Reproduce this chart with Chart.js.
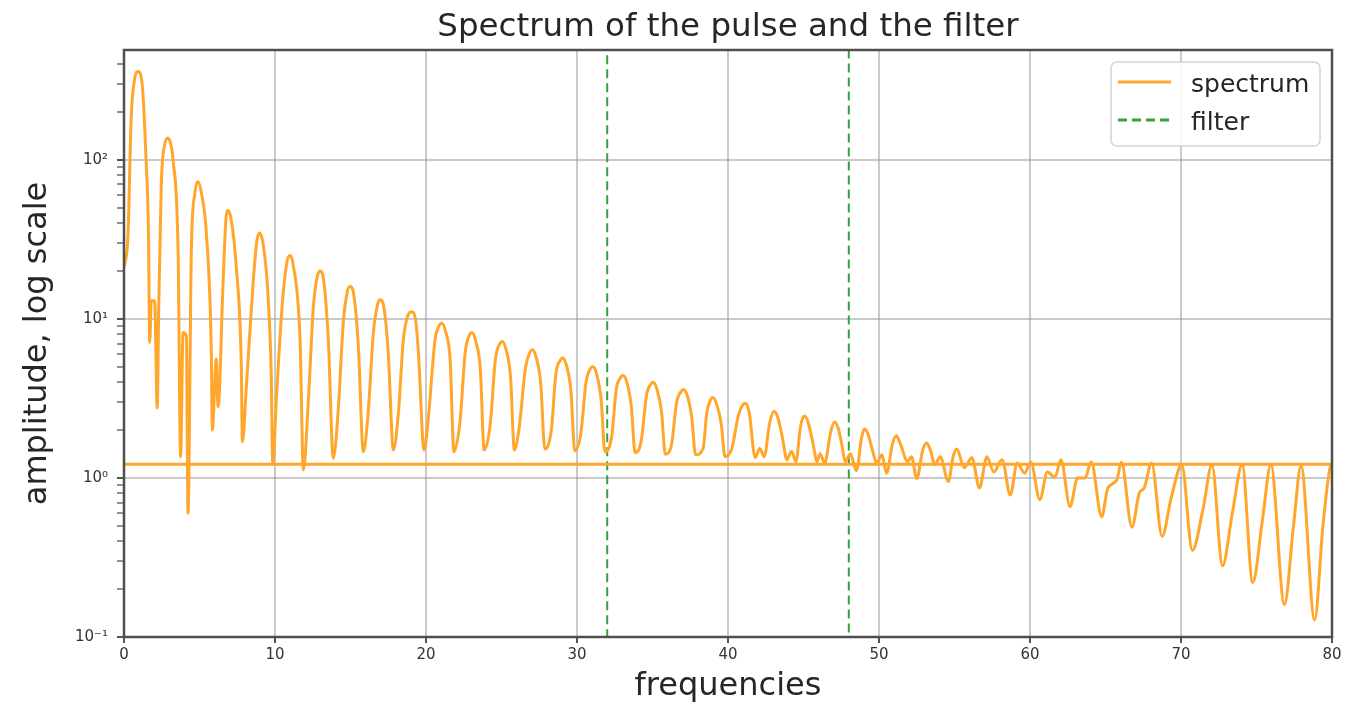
<!DOCTYPE html>
<html>
<head>
<meta charset="utf-8">
<title>Spectrum of the pulse and the filter</title>
<script src="https://cdn.jsdelivr.net/npm/chart.js@4.4.1/dist/chart.umd.min.js"></script>
<style>
  html, body { margin: 0; padding: 0; background: #fff; }
  #wrap { width: 1361px; height: 711px; }
</style>
</head>
<body>
<div id="wrap"><canvas id="spectrumChart" width="1361" height="711"></canvas></div>
<script>
// --- data (one row per lobe) ---
const freqs = [
  0.0, 0.26, 0.48, 0.7, 0.93, 1.2, 1.48, 1.62, 1.70, 1.81, 2.03, 2.2,
  2.3, 2.47, 2.7, 2.91, 3.1, 3.25, 3.58, 3.75, 3.91, 4.13, 4.24,
  4.46, 4.7, 4.9, 5.15, 5.45, 5.78, 5.85, 6.11, 6.23,
  6.56, 6.75, 6.89, 7.1, 7.44, 7.77, 7.84, 8.1,
  8.55, 8.8, 8.99, 9.2, 9.5, 9.75, 9.85, 10.11,
  10.5, 10.8, 11.0, 11.2, 11.66, 11.88, 12.2,
  12.54, 12.8, 12.98, 13.2, 13.53, 13.86, 14.19,
  14.52, 14.8, 14.97, 15.2, 15.52, 15.85, 16.18,
  16.51, 16.8, 16.95, 17.2, 17.5, 17.84, 18.17,
  18.5, 18.8, 19.05, 19.3, 19.5, 19.87, 20.15,
  20.6, 20.85, 21.04, 21.3, 21.6, 21.85, 22.25,
  22.6, 22.9, 23.05, 23.3, 23.6, 23.85, 24.25,
  24.6, 24.9, 25.05, 25.3, 25.6, 25.85, 26.15,
  26.6, 26.9, 27.05, 27.3, 27.6, 27.87, 28.3,
  28.6, 28.9, 29.05, 29.3, 29.6, 29.85, 30.25,
  30.6, 30.9, 31.05, 31.3, 31.6, 31.85, 32.3,
  32.6, 32.9, 33.05, 33.3, 33.6, 33.85, 34.25,
  34.6, 34.9, 35.05, 35.3, 35.6, 35.85, 36.25,
  36.6, 36.9, 37.05, 37.3, 37.6, 37.85, 38.35,
  38.6, 38.85, 39.0, 39.25, 39.55, 39.8, 40.25,
  40.7, 41.0, 41.15, 41.4, 41.8, 42.1, 42.4,
  42.75, 43.05, 43.3, 43.6, 43.9, 44.2, 44.5,
  44.8, 45.05, 45.3, 45.6, 45.9, 46.1, 46.4,
  46.8, 47.05, 47.3, 47.55, 47.75, 48.1, 48.5,
  48.85, 49.05, 49.3, 49.6, 49.85, 50.2, 50.5,
  50.9, 51.15, 51.4, 51.9, 52.15, 52.5,
  52.9, 53.15, 53.4, 53.7, 54.05, 54.6,
  54.9, 55.15, 55.65, 56.15, 56.65, 57.15, 57.6, 58.15, 58.7, 59.15, 59.65,
  60.05, 60.65, 61.15, 61.65, 62.05, 62.65, 63.15, 63.65, 64.05, 64.75,
  65.15, 65.75, 66.05, 66.75, 67.25, 67.55, 68.05, 68.75, 69.35,
  70.05, 70.75, 71.45, 72.05, 72.75, 73.4, 74.05, 74.75, 75.4,
  75.95, 76.85, 77.45, 77.95, 78.85, 79.4, 79.9, 80.0, 0.0
];
const amplitude = [
  21, 33, 187, 320, 359, 300, 91, 35, 7.1, 13, 13, 2.75,
  12, 71, 125, 137, 125, 100, 27, 1.36, 8.2, 7.8, 0.60,
  27, 62, 73, 60, 35, 6.4, 2.0, 5.6, 2.8,
  16.8, 42, 48, 42, 21, 5.0, 1.69, 3.7,
  16.8, 31, 34.6, 30, 16, 4.5, 1.24, 3.4,
  13, 23, 25, 22, 7.4, 1.12, 2.95,
  11.9, 18.5, 20, 18, 7.4, 1.33, 2.7,
  9.4, 15, 16, 14.5, 6.7, 1.46, 2.65,
  8.1, 12.4, 13.2, 12, 6.1, 1.5, 2.55,
  7.4, 10.5, 11.1, 10, 6.1, 1.5, 2.35,
  7.4, 9.0, 9.4, 8.3, 5.5, 1.46, 2.25,
  6.2, 8.0, 8.2, 7.2, 4.8, 1.5, 2.15,
  5.6, 7.0, 7.2, 6.4, 4.3, 1.5, 2.0,
  5.0, 6.2, 6.4, 5.7, 3.9, 1.52, 2.0,
  4.5, 5.5, 5.7, 5.1, 3.5, 1.48, 1.89,
  4.0, 4.9, 5.0, 4.5, 3.1, 1.46, 1.83,
  3.6, 4.3, 4.4, 4.0, 2.8, 1.44, 1.70,
  3.3, 3.9, 4.0, 3.6, 2.6, 1.41, 1.6,
  3.0, 3.5, 3.6, 3.3, 2.4, 1.4, 1.53,
  2.6, 3.1, 3.2, 2.9, 2.2, 1.36, 1.53,
  2.5, 2.9, 2.95, 2.6, 1.34, 1.53, 1.36,
  2.2, 2.63, 2.4, 1.8, 1.30, 1.47, 1.27,
  2.1, 2.45, 2.25, 1.7, 1.27, 1.42, 1.24,
  1.95, 2.25, 2.05, 1.6, 1.27, 1.42, 1.11,
  1.8, 2.03, 1.85, 1.45, 1.24, 1.40, 1.07,
  1.65, 1.84, 1.65, 1.27, 1.36, 0.99,
  1.5, 1.66, 1.5, 1.21, 1.36, 0.95,
  1.35, 1.52, 1.16, 1.34, 0.865, 1.36, 1.09, 1.30, 0.78, 1.24, 1.07,
  1.26, 0.73, 1.09, 1.01, 1.30, 0.66, 1.0, 1.0, 1.26, 0.57,
  0.86, 0.97, 1.26, 0.49, 0.81, 0.86, 1.24, 0.43, 0.75,
  1.21, 0.35, 0.63, 1.21, 0.28, 0.6, 1.21, 0.22, 0.55,
  1.21, 0.16, 0.5, 1.19, 0.128, 0.5, 1.19, 1.22, 1.22
];

// band-pass filter edges (vertical lines, run far outside the axis range)
const filterFreqs = [32, 32, 48, 48];
const filterAmps = [1e-4, 1e4, 1e4, 1e-4];

const xTicks = [0, 10, 20, 30, 40, 50, 60, 70, 80];
const yMajorTicks = [0.1, 1, 10, 100];
const yTickLabels = ['10⁻¹', '10⁰', '10¹', '10²'];
const yMin = 0.1;
const yMax = 490;

const FONT = "'DejaVu Sans', sans-serif";
const ORANGE = '#ffa62b';
const GREEN = '#35a23e';
const GRID = 'rgba(150,150,150,0.5)';
const TEXT = '#262626';

if (freqs.length !== amplitude.length) console.error('length mismatch', freqs.length, amplitude.length);

function toPoints(xs, ys) {
  return xs.map((x, i) => ({ x: x, y: ys[i] }));
}

// major decades plus the 2..9 minor marks like matplotlib
function buildLogTicks() {
  const ticks = [];
  for (let d = -1; d <= 2; d++) {
    for (let m = 1; m <= 9; m++) {
      const v = m * Math.pow(10, d);
      if (v >= yMin && v <= yMax) ticks.push({ value: v, major: m === 1 });
    }
  }
  return ticks;
}

// axes frame on top of the curves
const framePlugin = {
  id: 'frame',
  afterDatasetsDraw(chart) {
    const { ctx, chartArea: a } = chart;
    ctx.save();
    ctx.strokeStyle = '#4f4f4f';
    ctx.lineWidth = 2.5;
    ctx.strokeRect(a.left, a.top, a.right - a.left, a.bottom - a.top);
    ctx.restore();
  }
};

// legend box inside the upper right corner
const boxLegend = {
  id: 'boxLegend',
  afterDraw(chart) {
    const { ctx, chartArea: a } = chart;
    const w = 209, h = 84;
    const x = a.right - 12 - w, y = a.top + 12;
    ctx.save();
    ctx.beginPath();
    ctx.roundRect(x, y, w, h, 6);
    ctx.fillStyle = 'rgba(255,255,255,0.85)';
    ctx.fill();
    ctx.strokeStyle = '#d4d4d4';
    ctx.lineWidth = 1.5;
    ctx.stroke();
    chart.data.datasets.forEach((ds, i) => {
      const ly = y + 20 + i * 38;
      ctx.beginPath();
      ctx.setLineDash(ds.borderDash || []);
      ctx.strokeStyle = ds.borderColor;
      ctx.lineWidth = ds.legendWidth;
      ctx.moveTo(x + 7, ly);
      ctx.lineTo(x + 60, ly);
      ctx.stroke();
      ctx.setLineDash([]);
      ctx.fillStyle = TEXT;
      ctx.font = '25px ' + FONT;
      ctx.textBaseline = 'middle';
      ctx.fillText(ds.label, x + 80, ly + 3);
    });
    ctx.restore();
  }
};

const ctx = document.getElementById('spectrumChart').getContext('2d');
new Chart(ctx, {
  type: 'line',
  data: {
    datasets: [
      {
        label: 'spectrum',
        data: toPoints(freqs, amplitude),
        borderColor: ORANGE,
        borderWidth: 3,
        legendWidth: 3,
        pointRadius: 0,
        cubicInterpolationMode: 'monotone',
        fill: false
      },
      {
        label: 'filter',
        data: toPoints(filterFreqs, filterAmps),
        borderColor: GREEN,
        borderWidth: 2,
        legendWidth: 3,
        borderDash: [9, 5],
        pointRadius: 0,
        tension: 0,
        fill: false
      }
    ]
  },
  options: {
    responsive: false,
    animation: false,
    layout: { padding: { left: 0, right: 29, top: 0, bottom: 0 } },
    plugins: {
      legend: { display: false },
      tooltip: { enabled: false },
      title: {
        display: true,
        text: 'Spectrum of the pulse and the filter',
        fullSize: false,
        color: TEXT,
        font: { family: FONT, size: 32.5, weight: 'normal' },
        padding: { top: 8, bottom: 3 }
      }
    },
    scales: {
      x: {
        type: 'linear',
        min: 0,
        max: 80,
        afterBuildTicks: (scale) => { scale.ticks = xTicks.map(v => ({ value: v })); },
        afterFit: (scale) => { scale.height = 74; },
        ticks: {
          color: '#333',
          font: { family: FONT, size: 15 },
          padding: 3,
          maxRotation: 0,
          autoSkip: false
        },
        grid: { color: GRID, lineWidth: 2, tickColor: '#555', tickLength: 6, tickWidth: 2 },
        border: { display: false },
        title: {
          display: true,
          text: 'frequencies',
          color: TEXT,
          font: { family: FONT, size: 32 },
          padding: { top: 0, bottom: 5 }
        }
      },
      y: {
        type: 'logarithmic',
        min: yMin,
        max: yMax,
        afterBuildTicks: (scale) => { scale.ticks = buildLogTicks(); },
        afterFit: (scale) => { scale.width = 124; },
        ticks: {
          color: '#333',
          font: { family: FONT, size: 15 },
          padding: 9,
          autoSkip: false,
          callback: (value, i, ticks) => {
            if (!ticks[i].major) return '';
            const k = yMajorTicks.findIndex(t => Math.abs(t - value) < 1e-9);
            return k >= 0 ? yTickLabels[k] : '';
          }
        },
        grid: {
          color: (c) => (c.tick && c.tick.major ? GRID : 'rgba(0,0,0,0)'),
          lineWidth: 2,
          tickColor: '#555',
          tickLength: 7,
          tickWidth: (c) => (c.tick && c.tick.major ? 2 : 1.3)
        },
        border: { display: false },
        title: {
          display: true,
          text: 'amplitude, log scale',
          color: TEXT,
          font: { family: FONT, size: 32 },
          padding: { top: 18, bottom: 0 }
        }
      }
    }
  },
  plugins: [framePlugin, boxLegend]
});
</script>
</body>
</html>
